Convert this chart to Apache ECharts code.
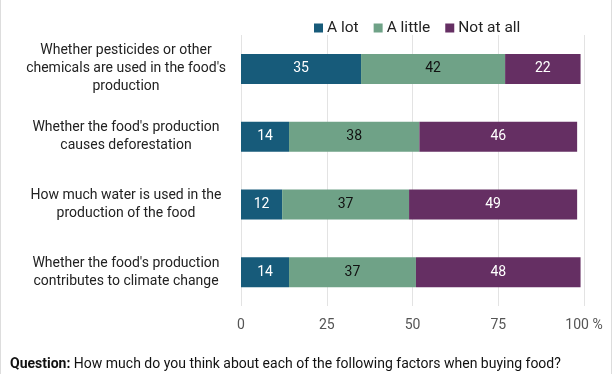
<!DOCTYPE html>
<html><head><meta charset="utf-8">
<script src="https://cdn.jsdelivr.net/npm/echarts@6/dist/echarts.min.js"></script>
<style>
html,body{margin:0;padding:0;background:#fff;}
#wrap{position:relative;width:612px;height:374px;overflow:hidden;box-sizing:border-box;border-left:1px solid #ddd;border-right:1px solid #ddd;}
#c{position:absolute;left:0;top:0;width:612px;height:374px;}
</style></head><body>
<div id="wrap"><div id="c"></div></div>
<script>
const categories = [
  "Whether pesticides or other\nchemicals are used in the food's\nproduction",
  "Whether the food's production\ncauses deforestation",
  "How much water is used in the\nproduction of the food",
  "Whether the food's production\ncontributes to climate change"
];
const seriesNames = ["A lot", "A little", "Not at all"];
const aLot = [35, 14, 12, 14];
const aLittle = [42, 38, 37, 37];
const notAtAll = [22, 46, 49, 48];
const xTicks = [0, 25, 50, 75, 100];
const questionLabel = "Question:";
const questionText = " How much do you think about each of the following factors when buying food?";

const colors = ["#175b7a", "#6fa287", "#652f63"];
const labelColors = ["#ffffff", "#111111", "#ffffff"];
const values = [aLot, aLittle, notAtAll];
const font = "Roboto, 'Noto Sans', sans-serif";

const chart = echarts.init(document.getElementById('c'), null, {renderer:'canvas'});
chart.setOption({
  animation:false,
  textStyle:{fontFamily:font},
  legend:{
    data:seriesNames, top:15, left:308, itemWidth:9, itemHeight:9, itemGap:15,
    textStyle:{fontSize:15.5, color:'#222', fontFamily:font, padding:[0,0,0,-1]},
    icon:'rect'
  },
  grid:{left:240, right:29, top:35, height:271, containLabel:false},
  xAxis:{
    type:'value', min:0, max:100, interval:25,
    axisLine:{show:false}, axisTick:{show:false},
    splitLine:{lineStyle:{color:'#e3e3e3', width:1}},
    axisLabel:{color:'#555', fontSize:14, margin:12, fontFamily:font,
      formatter:function(v){return v===100 ? v + ' %' : String(v);}}
  },
  yAxis:{
    type:'category', data:categories, inverse:true,
    axisLine:{show:false}, axisTick:{show:false},
    axisLabel:{align:'center', margin:115, fontSize:14, color:'#222', lineHeight:18, fontFamily:font}
  },
  series:seriesNames.map(function(n,i){
    return {
      name:n, type:'bar', stack:'s', barWidth:30, data:values[i],
      itemStyle:{color:colors[i]},
      label:{show:true, position:'inside', color:labelColors[i], fontSize:14, fontFamily:font}
    };
  }),
  graphic:[{
    type:'text', left:9, top:357,
    style:{rich:{b:{fontWeight:'bold', fontSize:14, fill:'#111', fontFamily:font}, n:{fontSize:14, fill:'#111', fontFamily:font}},
      text:'{b|' + questionLabel + '}{n|' + questionText + '}'}
  }]
});
</script>
</body></html>
